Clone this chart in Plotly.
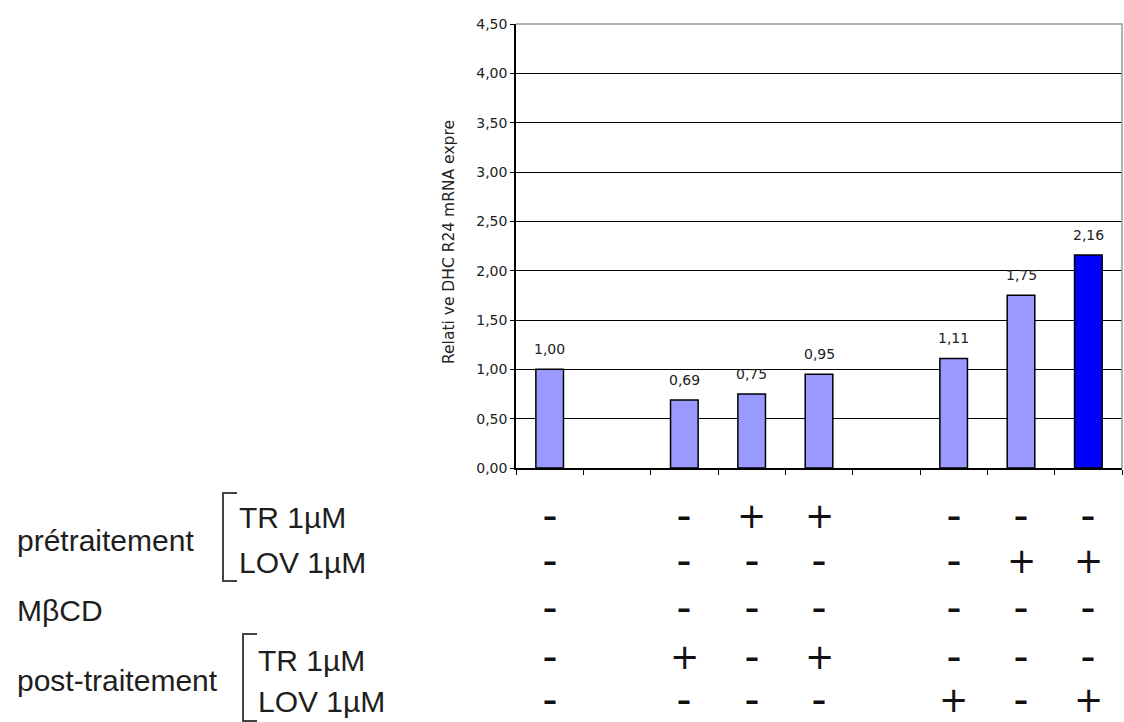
import plotly.graph_objects as go

# --- data -----------------------------------------------------------------
conditions = ["contrôle", "", "post TR", "pré TR", "pré TR + post TR", "",
              "post LOV", "pré LOV", "pré LOV + post LOV"]
expression = [1.00, None, 0.69, 0.75, 0.95, None, 1.11, 1.75, 2.16]
highlight = [False, False, False, False, False, False, False, False, True]

y_ticks = [0.0, 0.5, 1.0, 1.5, 2.0, 2.5, 3.0, 3.5, 4.0, 4.5]
y_title = "Relati ve DHC R24 mRNA expre"

# treatment table under the bars (one row per treatment, one entry per bar)
row_labels = ["TR 1µM", "LOV 1µM", "MβCD", "TR 1µM", "LOV 1µM"]
treatment_signs = [
    ["-", "", "-", "+", "+", "", "-", "-", "-"],   # prétraitement TR
    ["-", "", "-", "-", "-", "", "-", "+", "+"],   # prétraitement LOV
    ["-", "", "-", "-", "-", "", "-", "-", "-"],   # MβCD
    ["-", "", "+", "-", "+", "", "-", "-", "-"],   # post-traitement TR
    ["-", "", "-", "-", "-", "", "+", "-", "+"],   # post-traitement LOV
]

# --- geometry -------------------------------------------------------------
W, H = 1124, 722
L, R, T, B = 516, 2, 24, 254
PW, PH = W - L - R, H - T - B


def px(x):
    return (x - L) / PW


def py(y):
    return (H - B - y) / PH


LABEL_FONT = "Liberation Sans, Arial, sans-serif"
NUM_FONT = "DejaVu Sans, sans-serif"
TEXT_COL = "#1e1e1e"

x_idx = list(range(len(conditions)))
colors = ["#0000FF" if h else "#9999FF" for h in highlight]

fig = go.Figure(
    go.Bar(
        x=x_idx,
        y=expression,
        width=0.41,
        marker=dict(color=colors, line=dict(color="black", width=1.5)),
        hovertext=conditions,
        showlegend=False,
    )
)

annotations = []

# value labels above the bars
for i, v in enumerate(expression):
    if v is None:
        continue
    annotations.append(dict(
        x=i, y=v, xref="x", yref="y", text=f"{v:.2f}".replace(".", ","),
        showarrow=False, yshift=20, yanchor="middle",
        font=dict(family=NUM_FONT, size=14, color="#222"),
    ))

# rotated axis title
annotations.append(dict(
    x=px(449), y=py(242), xref="paper", yref="paper", text=y_title,
    textangle=-90, showarrow=False, xanchor="center", yanchor="middle",
    font=dict(family=NUM_FONT, size=15.5, color="#222"),
))

# +/- table: plus as a regular glyph, minus as a bold dash
row_y = [516, 561, 608, 657, 700]
for r, row in enumerate(treatment_signs):
    for i, s in enumerate(row):
        if not s:
            continue
        if s == "+":
            txt, fnt = "+", 35
        else:
            txt, fnt = "<b>–</b>", 28
        annotations.append(dict(
            x=i, y=py(row_y[r]), xref="x", yref="paper", text=txt,
            showarrow=False, xanchor="center", yanchor="middle",
            font=dict(family=NUM_FONT, size=fnt, color="#111"),
        ))

# row labels on the left
side_labels = [
    ("prétraitement", 15, 540),
    (row_labels[0], 237, 517),
    (row_labels[1], 237, 562),
    (row_labels[2], 15, 610),
    ("post-traitement", 15, 680),
    (row_labels[3], 256, 660),
    (row_labels[4], 256, 701),
]
for txt, lx, ly in side_labels:
    annotations.append(dict(
        x=px(lx), y=py(ly), xref="paper", yref="paper", text=txt,
        showarrow=False, xanchor="left", yanchor="middle",
        font=dict(family=LABEL_FONT, size=30, color=TEXT_COL),
    ))


def bracket(x0, x1, y0, y1):
    return dict(
        type="path", xref="paper", yref="paper",
        path=f"M {px(x1)} {py(y0)} L {px(x0)} {py(y0)} L {px(x0)} {py(y1)} L {px(x1)} {py(y1)}",
        line=dict(color="#444", width=2),
    )


shapes = [
    bracket(223, 237, 493, 581),
    bracket(243, 257, 634, 721),
    # light frame on top and right of the plot area
    dict(type="path", xref="paper", yref="paper", layer="above",
         path="M 0 1 L 1 1 L 1 0", line=dict(color="#999", width=1.5)),
]

fig.update_layout(
    width=W, height=H,
    margin=dict(l=L, r=R, t=T, b=B, pad=0),
    paper_bgcolor="white", plot_bgcolor="white",
    separators=", ",
    bargap=0.59,
    annotations=annotations,
    shapes=shapes,
    xaxis=dict(
        range=[-0.5, len(conditions) - 0.5],
        tickvals=[i + 0.5 for i in range(-1, len(conditions))],
        showticklabels=False, ticks="outside", ticklen=5, tickcolor="black",
        showline=True, linecolor="black", linewidth=1.5,
        showgrid=False, zeroline=False, fixedrange=True,
    ),
    yaxis=dict(
        range=[0, 4.5], tickvals=y_ticks, tickformat=".2f",
        ticks="outside", ticklen=4, tickcolor="black",
        showline=True, linecolor="black", linewidth=1.5,
        showgrid=True, gridcolor="black", gridwidth=1,
        zeroline=False, fixedrange=True,
        tickfont=dict(family=NUM_FONT, size=14, color="#222"),
    ),
)

fig.write_html("out.html", config={"displayModeBar": False})
